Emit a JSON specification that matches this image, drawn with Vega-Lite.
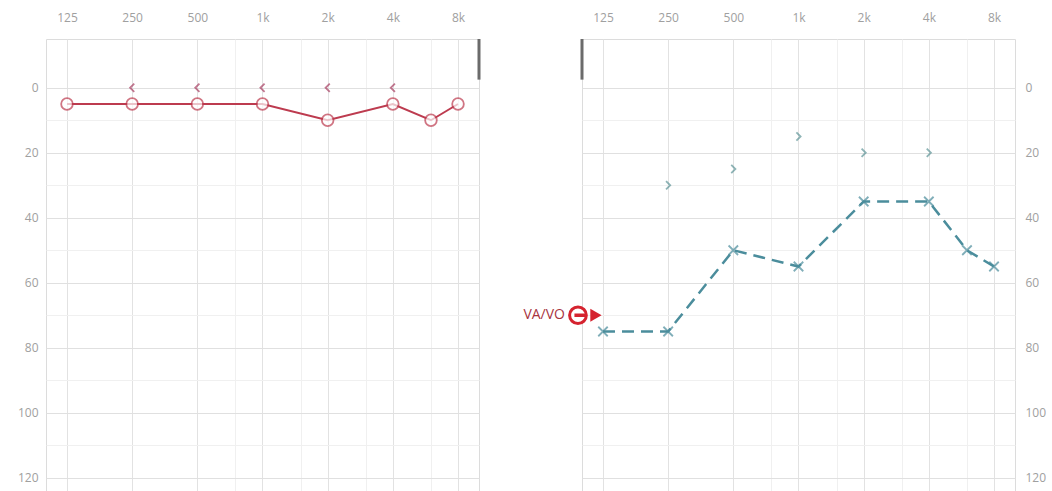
{
  "$schema": "https://vega.github.io/schema/vega-lite/v6.json",
  "padding": {"left": 16, "top": 10, "right": 5, "bottom": 0},
  "background": "white",
  "bounds": "flush",
  "spacing": 103,
  "datasets": {
    "rightAir": [
      {"f": 125, "db": 5}, {"f": 250, "db": 5}, {"f": 500, "db": 5}, {"f": 1000, "db": 5},
      {"f": 2000, "db": 10}, {"f": 4000, "db": 5}, {"f": 6000, "db": 10}, {"f": 8000, "db": 5}
    ],
    "rightBone": [
      {"f": 250, "db": 0}, {"f": 500, "db": 0}, {"f": 1000, "db": 0}, {"f": 2000, "db": 0}, {"f": 4000, "db": 0}
    ],
    "leftAir": [
      {"f": 125, "db": 75}, {"f": 250, "db": 75}, {"f": 500, "db": 50}, {"f": 1000, "db": 55},
      {"f": 2000, "db": 35}, {"f": 4000, "db": 35}, {"f": 6000, "db": 50}, {"f": 8000, "db": 55}
    ],
    "leftBone": [
      {"f": 250, "db": 30}, {"f": 500, "db": 25}, {"f": 1000, "db": 15}, {"f": 2000, "db": 20}, {"f": 4000, "db": 20}
    ],
    "rightHandle": [{"f": 10000, "top": -15, "bottom": -2.5}],
    "leftHandle": [{"f": 100, "top": -15, "bottom": -2.5}],
    "vavo": [{"f": 95.8, "db": 70, "label": "VA/VO"}],
    "vavoArrow": [{"f": 116, "db": 70}]
  },
  "hconcat": [
    {
      "width": 433,
      "height": 455,
      "encoding": {
        "x": {
          "field": "f", "type": "quantitative",
          "scale": {"type": "log", "domain": [100, 10000], "nice": false},
          "axis": {
            "orient": "top",
            "values": [125, 250, 500, 750, 1000, 1500, 2000, 3000, 4000, 6000, 8000],
            "labelExpr": "indexof([125, 250, 500, 1000, 2000, 4000, 8000], datum.value) >= 0 ? (datum.value >= 1000 ? (datum.value / 1000) + 'k' : '' + datum.value) : ''",
            "gridColor": {"condition": {"test": "indexof([750, 1500, 3000, 6000], datum.value) >= 0", "value": "#f0f0f0"}, "value": "#e2e2e2"},
            "title": null
          }
        },
        "y": {
          "field": "db", "type": "quantitative",
          "scale": {"domain": [-15, 125], "reverse": true, "nice": false, "zero": false},
          "axis": {
            "orient": "left",
            "values": [0, 10, 20, 30, 40, 50, 60, 70, 80, 90, 100, 110, 120],
            "labelExpr": "datum.value % 20 == 0 ? datum.label : ''",
            "gridColor": {"condition": {"test": "datum.value % 20 != 0", "value": "#f0f0f0"}, "value": "#e0e0e0"},
            "title": null
          }
        }
      },
      "layer": [
        {
          "data": {"name": "rightAir"},
          "mark": {"type": "line", "color": "#bd3b4f", "strokeWidth": 2}
        },
        {
          "data": {"name": "rightAir"},
          "mark": {"type": "point", "shape": "circle", "size": 135, "filled": true, "fill": "white", "stroke": "#bd3b4f", "strokeWidth": 1.8}
        },
        {
          "data": {"name": "rightBone"},
          "mark": {"type": "point", "shape": "M 0.5 -1 L -0.5 0 L 0.5 1", "size": 70, "filled": false, "stroke": "#a83f62", "strokeWidth": 1.8}
        },
        {
          "data": {"name": "rightHandle"},
          "mark": {"type": "rule", "color": "#6b6b6b", "strokeWidth": 3},
          "encoding": {
            "y": {"field": "top", "type": "quantitative"},
            "y2": {"field": "bottom"}
          }
        }
      ]
    },
    {
      "width": 433,
      "height": 455,
      "encoding": {
        "x": {
          "field": "f", "type": "quantitative",
          "scale": {"type": "log", "domain": [100, 10000], "nice": false},
          "axis": {
            "orient": "top",
            "values": [125, 250, 500, 750, 1000, 1500, 2000, 3000, 4000, 6000, 8000],
            "labelExpr": "indexof([125, 250, 500, 1000, 2000, 4000, 8000], datum.value) >= 0 ? (datum.value >= 1000 ? (datum.value / 1000) + 'k' : '' + datum.value) : ''",
            "gridColor": {"condition": {"test": "indexof([750, 1500, 3000, 6000], datum.value) >= 0", "value": "#f0f0f0"}, "value": "#e2e2e2"},
            "title": null
          }
        },
        "y": {
          "field": "db", "type": "quantitative",
          "scale": {"domain": [-15, 125], "reverse": true, "nice": false, "zero": false},
          "axis": {
            "orient": "right",
            "values": [0, 10, 20, 30, 40, 50, 60, 70, 80, 90, 100, 110, 120],
            "labelExpr": "datum.value % 20 == 0 ? datum.label : ''",
            "gridColor": {"condition": {"test": "datum.value % 20 != 0", "value": "#f0f0f0"}, "value": "#e0e0e0"},
            "labelPadding": 10,
            "title": null
          }
        }
      },
      "layer": [
        {
          "data": {"name": "leftAir"},
          "mark": {"type": "line", "color": "#4b8d9c", "strokeWidth": 2.5, "strokeDash": [12, 7]}
        },
        {
          "data": {"name": "leftAir"},
          "mark": {"type": "point", "shape": "M -1 -1 L 1 1 M -1 1 L 1 -1", "size": 90, "filled": false, "stroke": "#4b8d9c", "strokeWidth": 1.8}
        },
        {
          "data": {"name": "leftBone"},
          "mark": {"type": "point", "shape": "M -0.5 -1 L 0.5 0 L -0.5 1", "size": 70, "filled": false, "stroke": "#5f9598", "strokeWidth": 1.8}
        },
        {
          "data": {"name": "leftHandle"},
          "mark": {"type": "rule", "color": "#6b6b6b", "strokeWidth": 3},
          "encoding": {
            "y": {"field": "top", "type": "quantitative"},
            "y2": {"field": "bottom"}
          }
        },
        {
          "data": {"name": "vavo"},
          "mark": {"type": "text", "align": "right", "baseline": "middle", "dx": -13, "fontSize": 14, "font": "Open Sans", "color": "#a8343f"},
          "encoding": {"text": {"field": "label"}}
        },
        {
          "data": {"name": "vavoArrow"},
          "mark": {"type": "point", "shape": "triangle-right", "size": 170, "filled": true, "color": "#d5232f", "opacity": 1}
        },
        {
          "data": {"name": "vavo"},
          "mark": {"type": "point", "shape": "circle", "size": 280, "filled": true, "fill": "white", "stroke": "#d5232f", "strokeWidth": 3, "opacity": 1}
        },
        {
          "data": {"name": "vavo"},
          "mark": {"type": "point", "shape": "M -1 0 L 2.4 0", "size": 50, "filled": false, "stroke": "#d5232f", "strokeWidth": 3.5, "opacity": 1}
        }
      ]
    }
  ],
  "config": {
    "view": {"stroke": "#dcdcdc"},
    "axis": {
      "ticks": false,
      "domain": false,
      "grid": true,
      "labelColor": "#a0a0a0",
      "labelFont": "Open Sans",
      "labelFontSize": 12,
      "labelOverlap": false,
      "labelFlush": false
    },
    "axisX": {"labelPadding": 15},
    "axisY": {"labelPadding": 8}
  }
}
